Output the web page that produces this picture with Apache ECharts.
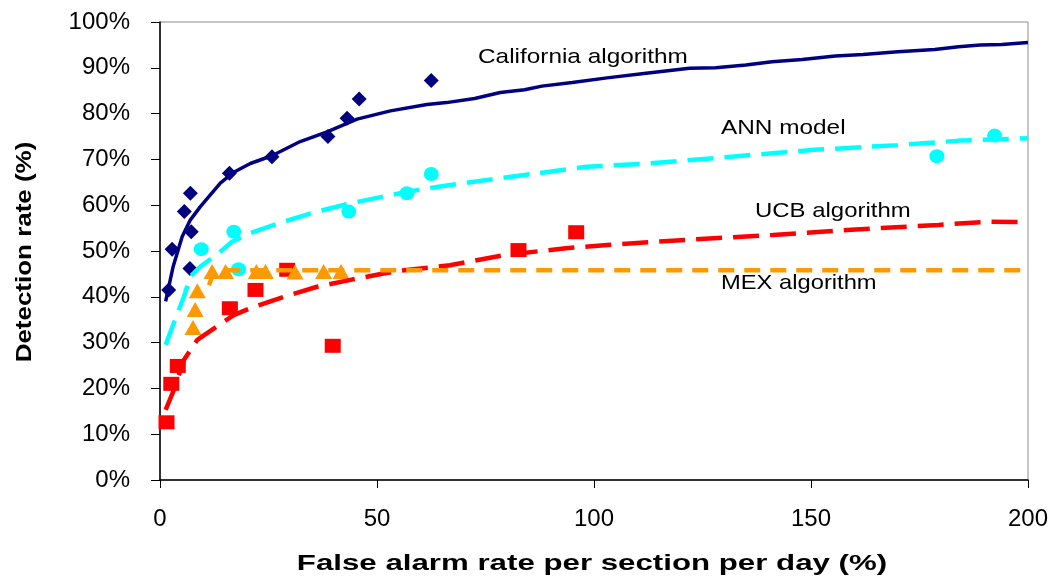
<!DOCTYPE html>
<html>
<head>
<meta charset="utf-8">
<script src="https://cdn.jsdelivr.net/npm/echarts@6/dist/echarts.min.js"></script>
<style>
    html, body { margin: 0; padding: 0; background: #fff; }
    #chart { width: 1058px; height: 580px; }
</style>
</head>
<body>
<div id="chart"></div>
<script>
// x: false alarm rate per section per day (%), y: detection rate (%)
const californiaPoints = [
    [2.0, 41.5], [2.8, 50.4], [5.6, 58.6], [6.9, 46.2], [7.0, 62.6], [7.2, 54.2],
    [16.0, 67.0], [25.8, 70.6], [38.7, 75.0], [43.1, 79.0], [45.9, 83.2], [62.5, 87.2],
]
const californiaCurve = [
    [1.3, 39.0], [3, 46.5], [5.1, 53.1], [7, 56.8], [9.3, 59.7], [13.9, 64.8], [17, 67.2],
    [20.8, 69.1], [25.8, 70.8], [32.3, 73.9], [38.5, 76.0], [45.4, 78.8], [53.1, 80.6],
    [61.5, 82.0], [66, 82.4], [72.5, 83.3], [78.4, 84.6], [84, 85.2], [88, 86.0], [95, 86.8],
    [103, 87.8], [112, 88.8], [122, 89.9], [128, 90.0], [135, 90.6], [141, 91.3], [148, 91.8],
    [155.6, 92.6], [162, 92.9], [170, 93.5], [178.5, 94.0], [184, 94.6], [189, 95.0],
    [194, 95.1], [200, 95.5],
]
const annPoints = [
    [9.5, 50.4], [17.0, 54.2], [18.1, 46.0], [43.5, 58.6], [56.9, 62.6], [62.5, 66.8],
    [179.0, 70.7], [192.3, 75.2],
]
const annCurve = [
    [1.3, 29.5], [3.6, 35.3], [5.5, 40.0], [7, 44.4], [9.3, 46.6], [13.2, 49.3], [16.6, 52.0],
    [20.8, 53.9], [28.5, 56.4], [36.2, 58.6], [43.9, 60.4], [51.5, 61.9], [59.2, 63.3],
    [66.9, 64.4], [78.4, 65.9], [84, 66.6], [98.3, 68.4], [112.6, 69.1], [131.7, 70.6],
    [150.8, 72.1], [169.9, 73.1], [184.2, 74.1], [200, 74.6],
]
const ucbPoints = [
    [1.5, 12.6], [2.6, 21.0], [4.1, 24.9], [16.1, 37.5], [22.0, 41.5], [29.3, 45.9],
    [39.8, 29.3], [82.6, 50.2], [95.9, 54.1],
]
const ucbCurve = [
    [1.3, 15.3], [3.2, 19.7], [5.5, 26.2], [8.6, 30.6], [13.5, 33.8], [17, 36.0], [20.8, 37.5],
    [28.5, 40.0], [36.2, 42.2], [43.9, 43.7], [51.5, 45.1], [55.4, 45.7], [66.8, 46.9],
    [79.2, 49.1], [93.5, 50.6], [103.1, 51.3], [122.2, 52.5], [141.2, 53.5], [160.3, 54.7],
    [179.4, 55.7], [190.9, 56.4], [200, 56.3],
]
const mexPoints = [
    [7.6, 33.3], [8.1, 37.2], [8.6, 41.3], [12.0, 45.5], [15.1, 45.5], [22.2, 45.5],
    [24.3, 45.5], [31.1, 45.4], [37.7, 45.5], [41.7, 45.5],
]
const mexCurve = [[11.3, 42.5], [12.5, 45.8], [200, 45.8]]

const xTicks = { min: 0, max: 200, interval: 50 }
const yTicks = { min: 0, max: 100, interval: 10 }

const labelFont = '21px "Liberation Sans", Arial, sans-serif'
const titleFont = 'bold 22px "Liberation Sans", Arial, sans-serif'

const chart = echarts.init(document.getElementById('chart'))

const curve = (data, color, width, dash) => ({
    type: 'line',
    data,
    showSymbol: false,
    symbol: 'none',
    smooth: false,
    silent: true,
    lineStyle: { color, width, type: dash || 'solid' },
})

const points = (data, color, symbol, size) => ({
    type: 'scatter',
    data,
    symbol,
    symbolSize: size,
    silent: true,
    itemStyle: { color, opacity: 1 },
})

chart.setOption({
    animation: false,
    backgroundColor: '#fff',
    grid: {
        left: 160,
        right: 30,
        top: 22,
        bottom: 100,
        show: true,
        borderColor: '#8c8c8c',
        borderWidth: 1,
        backgroundColor: '#fff',
    },
    xAxis: {
        type: 'value',
        min: xTicks.min,
        max: xTicks.max,
        interval: xTicks.interval,
        splitLine: { show: false },
        axisLine: { lineStyle: { color: '#000', width: 1.5 } },
        axisTick: { show: true, length: 8, lineStyle: { color: '#000' } },
        axisLabel: {
            color: '#000',
            fontSize: 24,
            fontFamily: '"Liberation Sans", Arial, sans-serif',
            margin: 27,
        },
    },
    yAxis: {
        type: 'value',
        min: yTicks.min,
        max: yTicks.max,
        interval: yTicks.interval,
        splitLine: { show: false },
        axisLine: { show: true, lineStyle: { color: '#000', width: 1.5 } },
        axisTick: { show: true, length: 9, lineStyle: { color: '#000' } },
        axisLabel: {
            color: '#000',
            fontSize: 24,
            fontFamily: '"Liberation Sans", Arial, sans-serif',
            margin: 30,
            formatter: '{value}%',
        },
    },
    graphic: [
        { type: 'text', x: 478, y: 57, scaleX: 1.16, style: { text: 'California algorithm', font: labelFont, fill: '#000', align: 'left', verticalAlign: 'middle' } },
        { type: 'text', x: 721, y: 128, scaleX: 1.16, style: { text: 'ANN model', font: labelFont, fill: '#000', align: 'left', verticalAlign: 'middle' } },
        { type: 'text', x: 755, y: 211, scaleX: 1.14, style: { text: 'UCB algorithm', font: labelFont, fill: '#000', align: 'left', verticalAlign: 'middle' } },
        { type: 'text', x: 721, y: 283, scaleX: 1.13, style: { text: 'MEX algorithm', font: labelFont, fill: '#000', align: 'left', verticalAlign: 'middle' } },
        { type: 'text', x: 592, y: 564, scaleX: 1.42, style: { text: 'False alarm rate per section per day (%)', font: titleFont, fill: '#000', align: 'center', verticalAlign: 'middle' } },
        { type: 'text', x: 25, y: 252, rotation: Math.PI / 2, scaleX: 1.18, style: { text: 'Detection rate (%)', font: titleFont, fill: '#000', align: 'center', verticalAlign: 'middle' } },
    ],
    series: [
        curve(californiaCurve, '#000080', 3.5),
        points(californiaPoints, '#000080', 'diamond', [15, 15]),
        curve(annCurve, '#00ffff', 4.5, [26, 11]),
        points(annPoints, '#00ffff', 'circle', [15, 14]),
        curve(ucbCurve, '#ff0000', 4.5, [26, 11]),
        points(ucbPoints, '#ff0000', 'rect', [16, 14]),
        curve(mexCurve, '#ff9900', 4.5, [16, 10]),
        points(mexPoints, '#ff9900', 'triangle', [17, 15]),
    ],
})
</script>
</body>
</html>
